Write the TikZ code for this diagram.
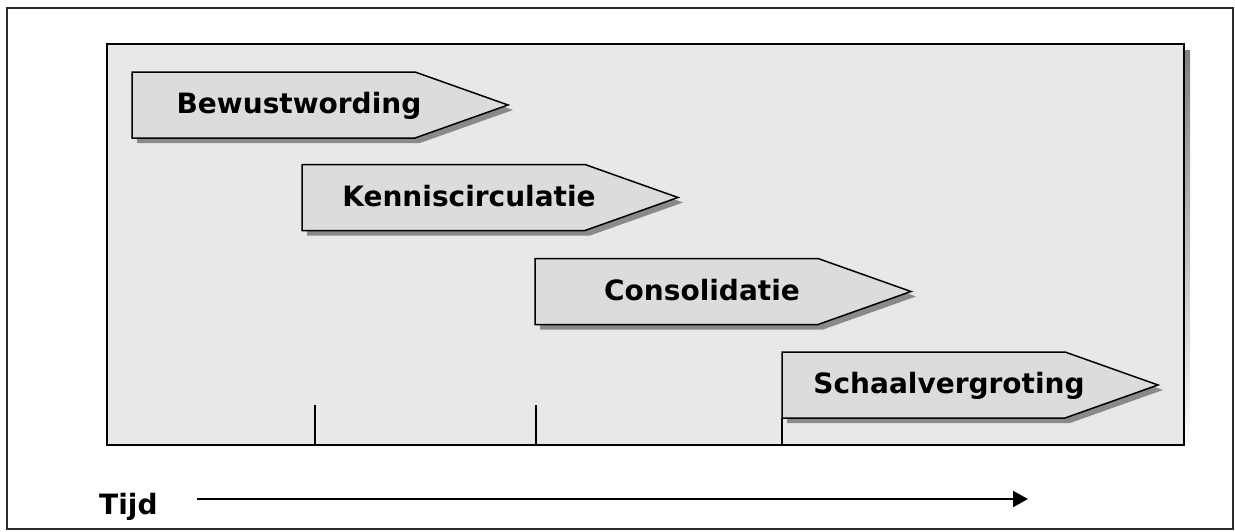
\documentclass[tikz,border=0pt]{standalone}
\usepackage{fontspec}
\setmainfont{DejaVu Sans}
\usetikzlibrary{arrows.meta}
\definecolor{panel}{HTML}{E8E8E8}
\definecolor{phasefill}{HTML}{DCDCDC}
\definecolor{shade}{HTML}{8A8A8A}
\definecolor{framecol}{HTML}{2A2A2A}
\tikzset{
  phaseshape/.style={fill=phasefill, draw=black, line width=1.5pt, line join=miter},
  phaseshadow/.style={fill=shade, draw=none},
  phaselabel/.style={font=\fontsize{28}{32}\selectfont\bfseries, anchor=base, inner sep=0pt},
  ticklines/.style={draw=black, line width=1.5pt},
  timeline/.style={line width=2pt, -{Triangle[length=15pt,width=16pt]}},
}
\newcommand\phasearrow[4]{%
  \fill[phaseshadow] ({#2+5},{#3+5}) -- ++(283,0) -- ++(93,33) -- ++(-93,33) -- ++(-283,0) -- cycle;
  \draw[phaseshape] (#2,#3) -- ++(283,0) -- ++(93,33) -- ++(-93,33) -- ++(-283,0) -- cycle;
  \node[phaselabel] (#1) at ({#2+167},{#3+41.5}) {#4};
}
\begin{document}
\begin{tikzpicture}[x=1pt,y=-1pt]
\useasboundingbox (0,0) rectangle (1235,531);
% outer frame
\draw[framecol, line width=1.5pt] (7,8) rectangle (1233,529);
% panel with shadow
\fill[shade] (113,50) rectangle (1190,451);
\draw[fill=panel, draw=black, line width=1.5pt] (107,44) rectangle (1184,445);
% ticks
\draw[ticklines] (315,405) -- (315,445);
\draw[ticklines] (536,405) -- (536,445);
\draw[ticklines] (782,418) -- (782,445);
% phases
\phasearrow{bew}{132}{72}{Bewustwording}
\phasearrow{ken}{302}{164.5}{Kenniscirculatie}
\phasearrow{con}{535}{258.5}{Consolidatie}
\phasearrow{sch}{782}{352}{Schaalvergroting}
% time axis
\node[font=\fontsize{28}{32}\selectfont\bfseries, anchor=base west, inner sep=0pt] (tijd) at (99,514) {Tijd};
\coordinate (ts) at (197,499);
\coordinate (te) at (1028,499);
\draw[timeline] (ts) -- (te);
\end{tikzpicture}
\end{document}
